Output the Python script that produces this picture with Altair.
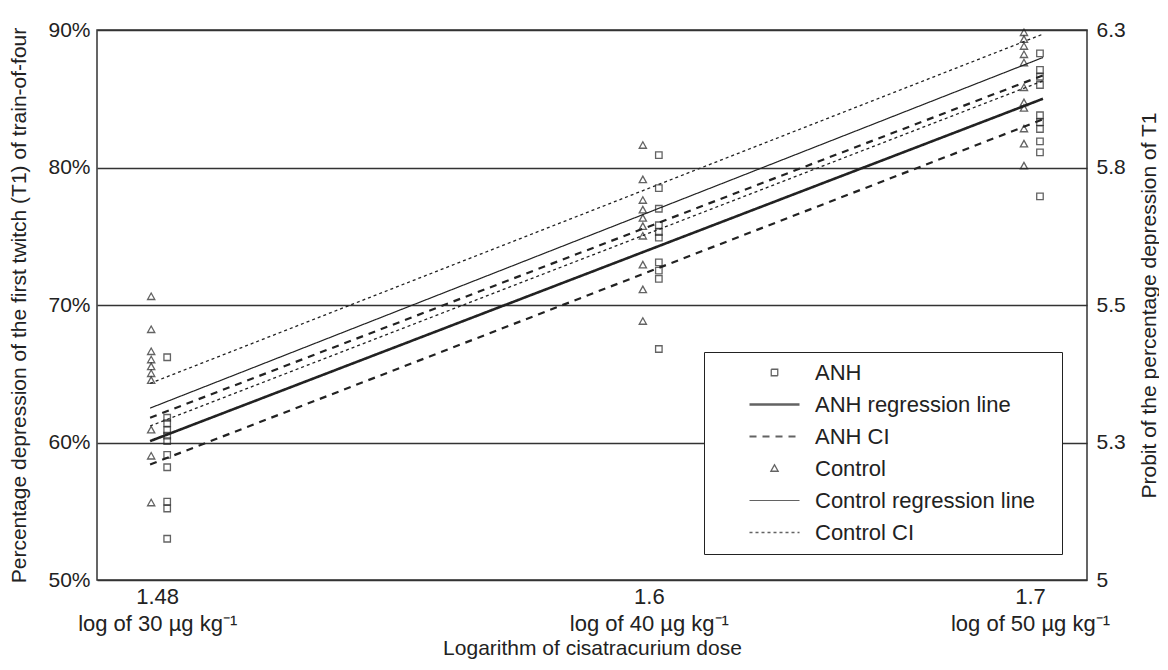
import json
import altair as alt
import pandas as pd

# ---------------- data ----------------
dose_x = [1.4771, 1.6021, 1.6990]              # log10(30), log10(40), log10(50)
x_tick_top = ["1.48", "1.6", "1.7"]
x_tick_bottom = ["log of 30 µg kg⁻¹", "log of 40 µg kg⁻¹", "log of 50 µg kg⁻¹"]

y_ticks = [50, 60, 70, 80, 90]
y_left_labels = ["50%", "60%", "70%", "80%", "90%"]
y_right_labels = ["5", "5.3", "5.5", "5.8", "6.3"]

anh_30 = [66.2, 61.8, 61.4, 60.9, 60.5, 60.1, 59.1, 58.2, 55.7, 55.2, 53.0]
anh_40 = [80.9, 78.5, 77.0, 75.8, 75.3, 74.9, 73.1, 72.5, 71.9, 66.8]
anh_50 = [88.3, 87.1, 86.6, 86.0, 83.8, 83.3, 82.8, 81.9, 81.1, 77.9]

ctrl_30 = [70.6, 68.2, 66.6, 66.0, 65.5, 65.0, 64.5, 60.9, 59.0, 55.6]
ctrl_40 = [81.6, 79.1, 77.6, 76.9, 76.3, 75.7, 75.0, 72.9, 71.1, 68.8]
ctrl_50 = [89.8, 89.3, 88.8, 88.2, 87.6, 85.8, 84.7, 84.3, 82.8, 81.7, 80.1]

line_x = [1.4753, 1.7023]
line_names = ["ANH CI upper", "ANH regression", "ANH CI lower",
              "Control CI upper", "Control regression", "Control CI lower"]
line_series = ["ANH CI", "ANH regression line", "ANH CI",
               "Control CI", "Control regression line", "Control CI"]
line_start = [61.8, 60.1, 58.4, 64.3, 62.5, 61.2]
line_end = [86.7, 85.0, 83.5, 89.7, 88.0, 86.3]

series_domain = ["ANH", "ANH regression line", "ANH CI",
                 "Control", "Control regression line", "Control CI"]

# ---------------- tables ----------------
def pts(groups, name):
    rows = []
    for xv, vals in zip(dose_x, groups):
        for v in vals:
            rows.append({"x": xv, "y": v, "series": name})
    return pd.DataFrame(rows)

anh_df = pts([anh_30, anh_40, anh_50], "ANH")
ctrl_df = pts([ctrl_30, ctrl_40, ctrl_50], "Control")

line_rows = []
for nm, sr, a, b in zip(line_names, line_series, line_start, line_end):
    line_rows.append({"x": line_x[0], "y": a, "series": sr, "line": nm})
    line_rows.append({"x": line_x[1], "y": b, "series": sr, "line": nm})
lines_df = pd.DataFrame(line_rows)

# ---------------- styling ----------------
INK = "#222222"
FONT = "Liberation Sans"
SQ = "M-0.13,-0.13H0.13V0.13H-0.13Z"
TRI = "M0,-0.15L0.145,0.11L-0.145,0.11Z"
shape_range = [SQ, "stroke", "stroke", TRI, "stroke", "stroke"]
dash_range = [[1, 0], [1, 0], [7, 6], [1, 0], [1, 0], [3, 3]]
width_range = [1.3, 2.6, 2.2, 1.3, 1.2, 1.3]

mid1 = (dose_x[0] + dose_x[1]) / 2
mid2 = (dose_x[1] + dose_x[2]) / 2
idx = f"(datum.value < {mid1} ? 0 : datum.value < {mid2} ? 1 : 2)"
x_label_expr = (f"[{json.dumps(x_tick_top, ensure_ascii=False)}[{idx}], "
                f"{json.dumps(x_tick_bottom, ensure_ascii=False)}[{idx}]]")
yidx = f"indexof({json.dumps(y_ticks)}, datum.value)"
y_left_expr = f"{json.dumps(y_left_labels)}[{yidx}]"
y_right_expr = f"{json.dumps(y_right_labels)}[{yidx}]"

xscale = alt.Scale(domain=[1.4618, 1.7135], nice=False, zero=False)
yscale = alt.Scale(domain=[50, 90], nice=False, zero=False)

x_axis = alt.Axis(values=dose_x, labelExpr=x_label_expr, title="Logarithm of cisatracurium dose",
                  grid=False, ticks=False, domain=False, labelFontSize=22, titleFontSize=21,
                  labelLineHeight=27, labelPadding=6, titlePadding=3, labelColor=INK,
                  titleColor=INK, titleFontWeight="normal", labelFlush=False, labelOverlap=False)
y_left_axis = alt.Axis(values=y_ticks, labelExpr=y_left_expr, orient="left",
                       title="Percentage depression of the first twitch (T1) of train-of-four",
                       grid=True, gridColor="#333333", gridWidth=1.3, gridOpacity=1,
                       ticks=False, domain=False, labelFontSize=21, titleFontSize=21,
                       labelPadding=7, titlePadding=18, labelColor=INK, titleColor=INK,
                       titleFontWeight="normal", labelFlush=False)
y_right_axis = alt.Axis(values=y_ticks, labelExpr=y_right_expr, orient="right",
                        title="Probit of the percentage depression of T1",
                        grid=False, ticks=False, domain=False, labelFontSize=21, titleFontSize=21,
                        labelPadding=9, titlePadding=34, labelColor=INK, titleColor=INK,
                        titleFontWeight="normal", titleAngle=270, labelFlush=False)

legend_def = alt.Legend(title=None, orient="none", legendX=607, legendY=322, direction="vertical",
                        fillColor="white", strokeColor=INK, padding=10, labelFontSize=22,
                        labelColor=INK, labelFont=FONT, labelLimit=500,
                        labelExpr="datum.label + '\u2800'",
                        symbolStrokeColor=INK,
                        symbolFillColor="transparent", symbolSize=2500, clipHeight=21,
                        rowPadding=9, labelOffset=14, symbolOffset=34)

shape_enc = alt.Shape("series:N", scale=alt.Scale(domain=series_domain, range=shape_range),
                      legend=legend_def)

anh_layer = alt.Chart(anh_df).mark_point(
    size=2500, filled=False, color=INK, strokeWidth=1.3, xOffset=10
).encode(
    x=alt.X("x:Q", scale=xscale, axis=x_axis),
    y=alt.Y("y:Q", scale=yscale, axis=y_left_axis),
    shape=shape_enc,
)

ctrl_layer = alt.Chart(ctrl_df).mark_point(
    size=2500, filled=False, color=INK, strokeWidth=1.3, xOffset=-6
).encode(
    x=alt.X("x:Q", scale=xscale, axis=x_axis),
    y=alt.Y("y:Q", scale=yscale, axis=None),
    shape=shape_enc,
)

line_layer = alt.Chart(lines_df).mark_line(color=INK).encode(
    x=alt.X("x:Q", scale=xscale, axis=x_axis),
    y=alt.Y("y:Q", scale=yscale, axis=y_right_axis),
    detail="line:N",
    strokeDash=alt.StrokeDash("series:N", scale=alt.Scale(domain=series_domain, range=dash_range),
                              legend=legend_def),
    strokeWidth=alt.StrokeWidth("series:N",
                                scale=alt.Scale(type="ordinal", domain=series_domain, range=width_range),
                                legend=legend_def),
)

chart = alt.layer(anh_layer, line_layer, ctrl_layer).resolve_axis(y="independent").properties(
    width=990, height=550,
    autosize=alt.AutoSizeParams(type="none"),
    padding={"left": 89, "top": 22, "right": 72, "bottom": 80},
).configure(font=FONT).configure_view(
    stroke="#333333", strokeWidth=1.5
)

chart.save("out.html", embed_options={"renderer": "svg", "actions": False})
